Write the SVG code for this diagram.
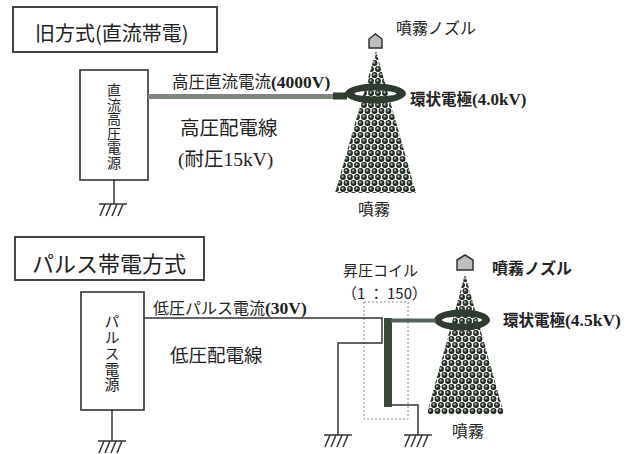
<svg xmlns="http://www.w3.org/2000/svg" width="634" height="454" viewBox="0 0 634 454">
  <defs>
    <style>
      .jp{font-family:"Noto Sans CJK JP","Noto Sans",sans-serif;fill:#222}
      .lt{font-family:"Liberation Serif","Times New Roman",serif;font-weight:bold;fill:#222}
      .lr{font-family:"Liberation Serif","Times New Roman",serif;fill:#222}
      .vert{writing-mode:vertical-rl;text-anchor:middle}
      .frame{fill:#fff;stroke:#333;stroke-width:1.6}
      .title{fill:#fff;stroke:#444;stroke-width:2}
      .wire{fill:none;stroke:#333;stroke-width:1.5}
      .ring{fill:#2f3c2f;fill-rule:evenodd}
      .nozzle{fill:#bdbdbd;stroke:#333;stroke-width:1.5}
      .coilbox{fill:none;stroke:#8a8a8a;stroke-width:1;stroke-dasharray:2 2}
    </style>
    <radialGradient id="ball" cx="0.5" cy="0.5" r="0.5" fx="0.38" fy="0.32">
      <stop offset="0" stop-color="#ffffff"/>
      <stop offset="0.22" stop-color="#9aa39a"/>
      <stop offset="0.55" stop-color="#2c382c"/>
      <stop offset="1" stop-color="#101810"/>
    </radialGradient>
    <pattern id="mist" width="7" height="12" patternUnits="userSpaceOnUse">
      <circle cx="3.5" cy="3" r="2.9" fill="url(#ball)"/>
      <circle cx="0" cy="9" r="2.9" fill="url(#ball)"/>
      <circle cx="7" cy="9" r="2.9" fill="url(#ball)"/>
    </pattern>
    <g id="ground" stroke="#333" stroke-width="1.5" fill="none">
      <line x1="-14" y1="0" x2="14" y2="0"/>
      <line x1="-8" y1="0" x2="-13" y2="12"/>
      <line x1="-2" y1="0" x2="-7" y2="12"/>
      <line x1="4" y1="0" x2="-1" y2="12"/>
      <line x1="10" y1="0" x2="5" y2="12"/>
    </g>
  </defs>

  <rect width="634" height="454" fill="#fff"/>

  <!-- upper half: DC charging -->
  <g id="title-dc">
    <rect class="title" x="13" y="7" width="204" height="45"/>
    <text class="jp" x="35" y="41" font-size="20">旧方式(直流帯電)</text>
  </g>

  <g id="dc-supply">
    <rect class="frame" x="80" y="70" width="68" height="110"/>
    <text class="jp vert" x="114" y="126.5" font-size="14" letter-spacing="0.6">直流高圧電源</text>
  </g>

  <g id="dc-spray">
    <polygon class="nozzle" points="369,48 369,39 375.5,34 382,39 382,48"/>
    <polygon points="376,51 335,193 416,193" fill="url(#mist)"/>
    <path class="ring" d="M345,93.5 a30.5,10 0 1,0 61,0 a30.5,10 0 1,0 -61,0 Z M354.5,93.5 a21,3 0 1,0 42,0 a21,3 0 1,0 -42,0 Z"/>
    <text class="jp" x="396" y="34" font-size="16">噴霧ノズル</text>
    <text x="410" y="105"><tspan class="jp" font-size="15.5" font-weight="bold">環状電極</tspan><tspan class="lt" font-size="17">(4.0kV)</tspan></text>
    <text class="jp" x="358" y="215" font-size="16">噴霧</text>
  </g>

  <g id="dc-connectors">
    <rect x="148" y="94" width="186" height="5" fill="#7f867d"/>
    <rect x="333" y="92.5" width="14" height="7" fill="#2f3c2f"/>
    <line class="wire" x1="114" y1="180" x2="114" y2="204"/>
    <use href="#ground" x="113" y="204"/>
  </g>

  <g id="dc-labels">
    <text x="172" y="88"><tspan class="jp" font-size="16.5">高圧直流電流</tspan><tspan class="lt" font-size="17.5">(4000V)</tspan></text>
    <text class="jp" x="180" y="135" font-size="19.5">高圧配電線</text>
    <text x="178" y="166" font-size="19.5"><tspan class="lr">(</tspan><tspan class="jp">耐圧</tspan><tspan class="lr">15kV)</tspan></text>
  </g>

  <!-- lower half: pulse charging -->
  <g id="title-pulse">
    <rect class="title" x="15" y="237" width="189" height="43"/>
    <text class="jp" x="32" y="272" font-size="22">パルス帯電方式</text>
  </g>

  <g id="pulse-supply">
    <rect class="frame" x="81" y="292" width="63" height="118"/>
    <text class="jp vert" x="112" y="353.5" font-size="15" letter-spacing="0.75">パルス電源</text>
  </g>

  <g id="step-up-coil">
    <rect class="coilbox" x="364" y="302" width="44" height="117"/>
    <rect x="384" y="318" width="8" height="89" fill="#3a4a3a"/>
    <text class="jp" x="343" y="276" font-size="15">昇圧コイル</text>
    <text class="jp" x="342" y="299" font-size="15">（1 ： 150）</text>
  </g>

  <g id="pulse-spray">
    <polygon class="nozzle" points="457,270 457,260 465,255 473,260 473,270"/>
    <polygon points="465,274 427,414 504,414" fill="url(#mist)"/>
    <path class="ring" fill="#3d4c3d" d="M434,320 a28,10.5 0 1,0 56,0 a28,10.5 0 1,0 -56,0 Z M442,320 a20,3.5 0 1,0 40,0 a20,3.5 0 1,0 -40,0 Z"/>
    <text class="jp" x="492" y="274" font-size="16" font-weight="bold">噴霧ノズル</text>
    <text x="503" y="326"><tspan class="jp" font-size="15.5" font-weight="bold">環状電極</tspan><tspan class="lt" font-size="17.5">(4.5kV)</tspan></text>
    <text class="jp" x="452" y="437" font-size="16">噴霧</text>
  </g>

  <g id="pulse-connectors">
    <polyline class="wire" points="144,318 382,318 382,343 338,343 338,435"/>
    <rect x="391" y="318.5" width="45" height="4" fill="#56635a"/>
    <polyline class="wire" points="392,405 418,405 418,435"/>
    <line class="wire" x1="112" y1="410" x2="112" y2="441"/>
    <use href="#ground" x="112" y="441"/>
    <use href="#ground" x="338" y="435"/>
    <use href="#ground" x="418" y="435"/>
  </g>

  <g id="pulse-labels">
    <text x="153" y="314"><tspan class="jp" font-size="16">低圧パルス電流</tspan><tspan class="lt" font-size="17.5">(30V)</tspan></text>
    <text class="jp" x="170" y="362" font-size="18.5">低圧配電線</text>
  </g>
</svg>
